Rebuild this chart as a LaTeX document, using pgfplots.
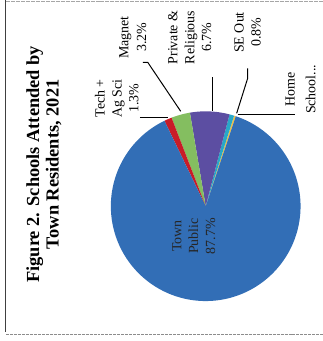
\documentclass[border=0pt]{standalone}
\usepackage{pgfplots}
\pgfplotsset{compat=1.18}
\usepackage{pgfplotstable}
\usepackage{fontspec}
\setmainfont{Liberation Serif}

\definecolor{cBlue}{RGB}{50,110,182}
\definecolor{cRed}{RGB}{200,28,40}
\definecolor{cGreen}{RGB}{132,190,96}
\definecolor{cPurple}{RGB}{92,78,162}
\definecolor{cCyan}{RGB}{40,168,200}
\definecolor{cYellow}{RGB}{240,192,70}

\pgfplotstableread{
slice pct
Home 0.3
SEOut 0.8
Private 6.7
Magnet 3.2
Tech 1.3
Town 87.7
}\piedata
\pgfmathsetmacro\aO{71.5}
\pgfplotstablegetelem{0}{pct}\of\piedata \pgfmathsetmacro\aA{\aO+3.6*\pgfplotsretval}
\pgfplotstablegetelem{1}{pct}\of\piedata \pgfmathsetmacro\aB{\aA+3.6*\pgfplotsretval}
\pgfplotstablegetelem{2}{pct}\of\piedata \pgfmathsetmacro\aC{\aB+3.6*\pgfplotsretval}
\pgfplotstablegetelem{3}{pct}\of\piedata \pgfmathsetmacro\aD{\aC+3.6*\pgfplotsretval}
\pgfplotstablegetelem{4}{pct}\of\piedata \pgfmathsetmacro\aE{\aD+3.6*\pgfplotsretval}
\pgfplotstablegetelem{5}{pct}\of\piedata \pgfmathsetmacro\aF{\aE+3.6*\pgfplotsretval}

\begin{document}%
\begin{tikzpicture}
\begin{axis}[scale only axis, width=323bp, height=341bp,
  xmin=0, xmax=323, ymin=0, ymax=341, hide axis, clip=false]
\path (axis cs:0,0) (axis cs:323,341);
% slices
\addplot[fill=cYellow, draw=none, domain=\aO:\aA, samples=5, variable=\t] ({206+95*cos(\t)},{135+95*sin(\t)}) -- (axis cs:206,135) -- cycle;
\addplot[fill=cCyan, draw=none, domain=\aA:\aB, samples=5, variable=\t] ({206+95*cos(\t)},{135+95*sin(\t)}) -- (axis cs:206,135) -- cycle;
\addplot[fill=cPurple, draw=none, domain=\aB:\aC, samples=20, variable=\t] ({206+95*cos(\t)},{135+95*sin(\t)}) -- (axis cs:206,135) -- cycle;
\addplot[fill=cGreen, draw=none, domain=\aC:\aD, samples=10, variable=\t] ({206+95*cos(\t)},{135+95*sin(\t)}) -- (axis cs:206,135) -- cycle;
\addplot[fill=cRed, draw=none, domain=\aD:\aE, samples=5, variable=\t] ({206+95*cos(\t)},{135+95*sin(\t)}) -- (axis cs:206,135) -- cycle;
\addplot[fill=cBlue, draw=none, domain=\aE:\aF, samples=150, variable=\t] ({206+95*cos(\t)},{135+95*sin(\t)}) -- (axis cs:206,135) -- cycle;
% frame
\draw[line width=1pt, black!75] (axis cs:6,341) -- (axis cs:6,9);
\draw[line width=0.8pt, black!45, dash pattern=on 3pt off 1pt] (axis cs:6,7) -- (axis cs:323,7);
\draw[line width=0.6pt, black!35, dash pattern=on 4pt off 1pt] (axis cs:6,340) -- (axis cs:323,340);
% title
\node[rotate=90, align=center, font=\bfseries\fontsize{18.5}{19.5}\selectfont] at (axis cs:44,177) {Figure 2. Schools Attended by\\Town Residents, 2021};
% labels
\node[rotate=90, align=center, font=\fontsize{14}{17}\selectfont] at (axis cs:117,243) {Tech +\\Ag Sci\\1.3\%};
\node[rotate=90, align=center, font=\fontsize{14}{18}\selectfont] at (axis cs:133,304) {Magnet\\3.2\%};
\node[rotate=90, align=center, font=\fontsize{14}{17}\selectfont] at (axis cs:190,304) {Private \&\\Religious\\6.7\%};
\node[rotate=90, align=center, font=\fontsize{14}{17}\selectfont] at (axis cs:248,309) {SE Out\\0.8\%};
\node[rotate=90, align=center, font=\fontsize{14}{21}\selectfont] at (axis cs:301,252) {Home\\School...};
\node[rotate=90, align=center, font=\fontsize{14}{17}\selectfont, text=black!85] at (axis cs:194,105) {Town\\Public\\87.7\%};
% leader lines
\draw[line width=1pt] (axis cs:140,224) -- (axis cs:168,224);
\draw[line width=1pt] (axis cs:143,279) -- (axis cs:148,279) -- (axis cs:181,230);
\draw[line width=1pt] (axis cs:213,264) -- (axis cs:213,230);
\draw[line width=1pt] (axis cs:248,273) -- (axis cs:248,263) -- (axis cs:237,228);
\draw[line width=1pt] (axis cs:238,227) -- (axis cs:295,227);
\end{axis}
\end{tikzpicture}%
\end{document}
